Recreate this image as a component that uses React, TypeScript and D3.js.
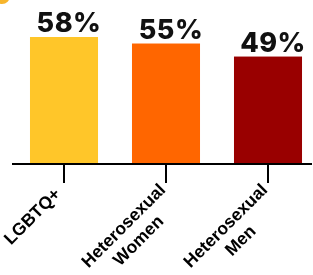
import React, { useEffect, useRef } from 'react';
import * as d3 from 'd3';

const categories = ['LGBTQ+', 'Heterosexual\nWomen', 'Heterosexual\nMen'];
const values = [58, 55, 49];
const valueLabels = ['58%', '55%', '49%'];
const colors = ['#FFC629', '#FF6600', '#990000'];

const App = () => {
    const svgRef = useRef<SVGSVGElement>(null);

    const width = 313;
    const height = 275;
    const baseline = 163;

    useEffect(() => {
        const svg = d3.select(svgRef.current);
        svg.selectAll('*').remove();

        const x = d3.scaleBand()
            .domain(categories)
            .range([13, 319])
            .paddingInner(0.333)
            .paddingOuter(0.1665);

        const y = d3.scaleLinear()
            .domain([0, 58])
            .range([baseline, 37]);

        // little icon cut off in the corner
        svg.append('circle')
            .attr('cx', 2)
            .attr('cy', -4)
            .attr('r', 8)
            .attr('fill', '#F7B52C');

        svg.append('g')
            .selectAll('rect')
            .data(values)
            .join('rect')
            .attr('x', (d, i) => x(categories[i])!)
            .attr('y', d => y(d))
            .attr('width', x.bandwidth())
            .attr('height', d => baseline - y(d))
            .attr('fill', (d, i) => colors[i]);

        svg.append('g')
            .selectAll('text')
            .data(values)
            .join('text')
            .attr('x', (d, i) => x(categories[i])! + x.bandwidth() / 2 + 5)
            .attr('y', d => y(d) - 5)
            .attr('text-anchor', 'middle')
            .attr('font-family', 'Inter, sans-serif')
            .attr('font-weight', 800)
            .attr('font-size', 27)
            .attr('letter-spacing', 0.5)
            .attr('fill', '#111')
            .text((d, i) => valueLabels[i]);

        const axis = svg.append('g')
            .attr('transform', `translate(0,${baseline + 1})`)
            .call(d3.axisBottom(x).tickSize(19).tickSizeOuter(0).tickFormat(() => ''));
        axis.select('.domain')
            .attr('d', 'M12,0H312')
            .attr('stroke', '#000')
            .attr('stroke-width', 2);
        axis.selectAll('.tick line')
            .attr('stroke', '#000')
            .attr('stroke-width', 2);

        // rotated, multi-line category labels (lines centred on each other)
        const labels = svg.append('g')
            .selectAll('text')
            .data(categories)
            .join('text')
            .attr('font-family', '"Liberation Sans", Arial, sans-serif')
            .attr('font-weight', 700)
            .attr('font-size', 17.5)
            .attr('fill', '#000')
            .attr('transform', d => `translate(${x(d)! + x.bandwidth() / 2 - 2.5},${baseline + 32}) rotate(-45)`);

        labels.each(function (d) {
            const t = d3.select(this);
            const lines = d.split('\n');
            const multi = lines.length > 1;
            const spans = lines.map((line, i) => t.append('tspan')
                .attr('dy', i === 0 ? (multi ? -1 : 0) : 21)
                .text(line));
            const maxW = d3.max(spans, s => (s.node() as SVGTSpanElement).getComputedTextLength()) ?? 0;
            const shift = multi ? 5 : 0;
            spans.forEach(s => s.attr('x', -maxW / 2 + shift).attr('text-anchor', 'middle'));
        });
    }, []);

    return (
        <div style={{ position: 'fixed', left: 0, top: 0 }}>
            <svg ref={svgRef} width={width} height={height} style={{ display: 'block' }}></svg>
        </div>
    );
};

export default App;
